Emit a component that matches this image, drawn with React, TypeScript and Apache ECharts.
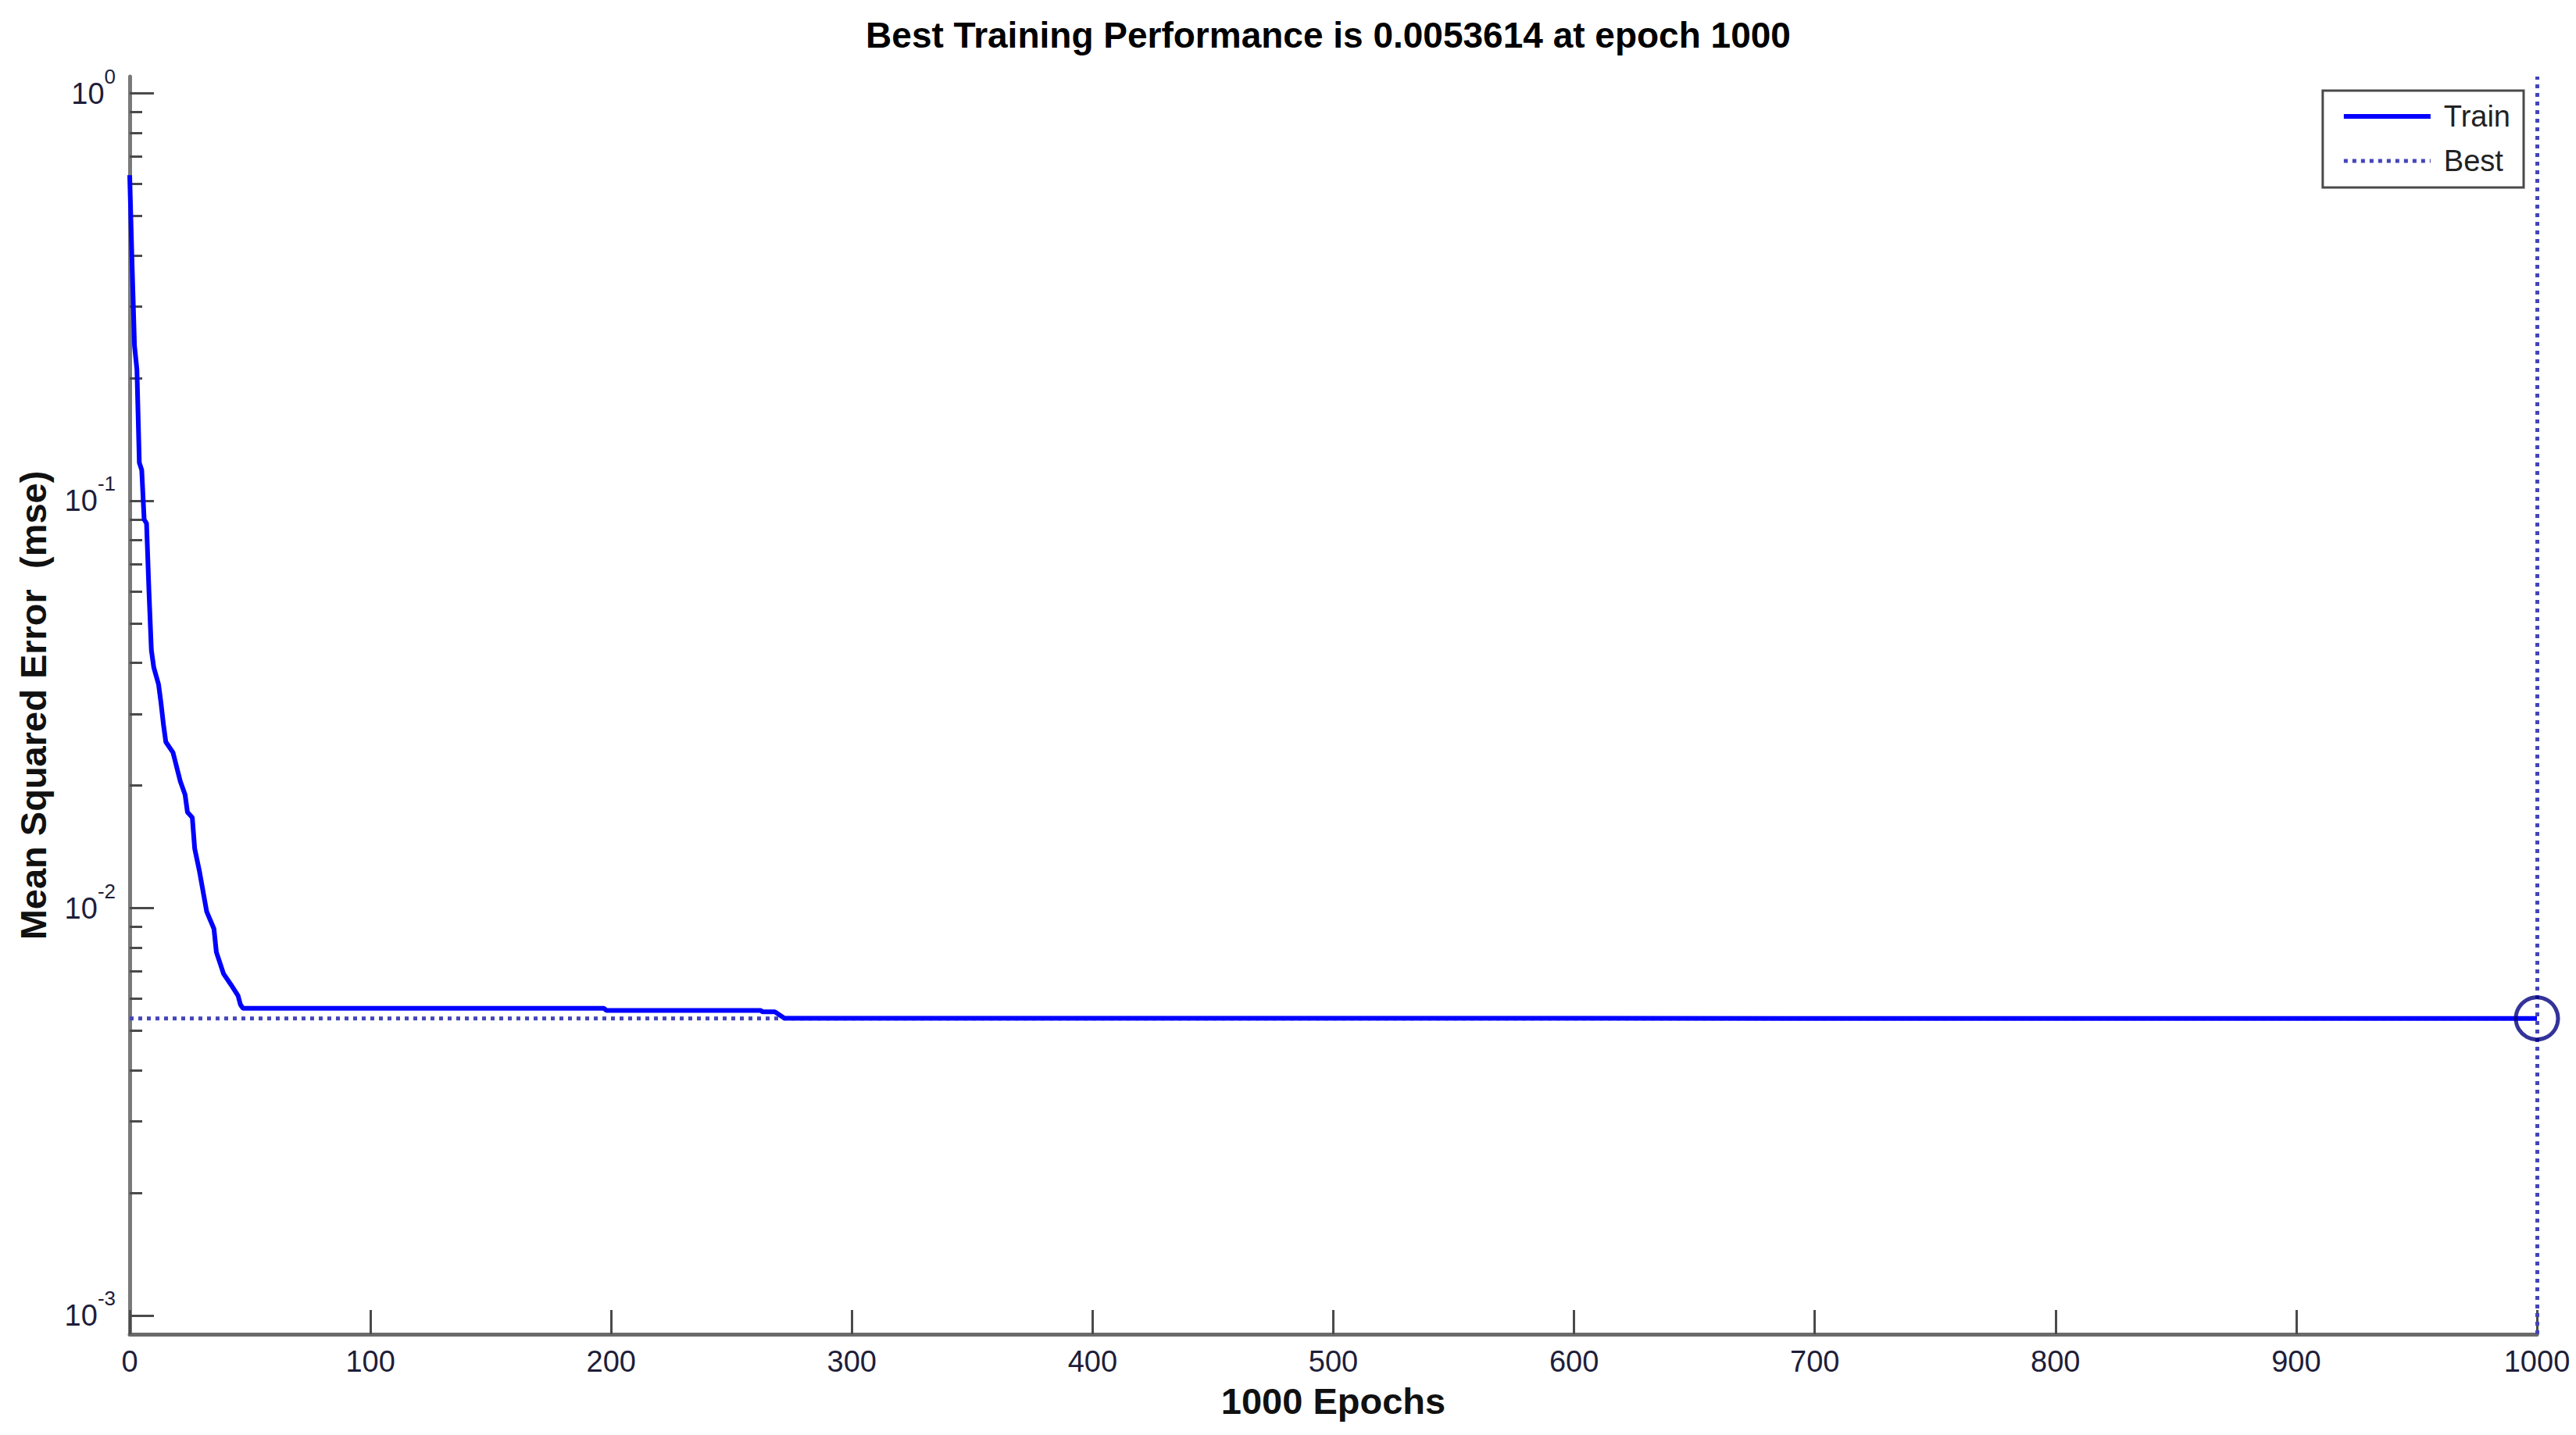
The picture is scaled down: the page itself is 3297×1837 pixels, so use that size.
import React, { useEffect, useRef } from 'react';
import * as echarts from 'echarts';

const titleText = 'Best Training Performance is 0.0053614 at epoch 1000';
const xAxisName = '1000 Epochs';
const yAxisName = 'Mean Squared Error  (mse)';
const legendNames = ['Train', 'Best'];

const xTickValues = [0, 100, 200, 300, 400, 500, 600, 700, 800, 900, 1000];
const yMajorTicks = [0.001, 0.01, 0.1, 1];
const yMinorTicks = [
  0.002, 0.003, 0.004, 0.005, 0.006, 0.007, 0.008, 0.009,
  0.02, 0.03, 0.04, 0.05, 0.06, 0.07, 0.08, 0.09,
  0.2, 0.3, 0.4, 0.5, 0.6, 0.7, 0.8, 0.9,
];
const yMin = 0.0009;
const yMax = 1.1;

const trainEpochs = [0, 1, 2, 3, 4, 5, 6, 7, 8, 9, 10, 12, 13, 14, 15, 18, 21, 23, 24, 26, 27, 29, 32, 35, 36, 39, 42, 45, 46, 47, 197, 198, 262, 263, 268, 272, 1000];
const trainMse = [0.63, 0.38, 0.24, 0.21, 0.124, 0.119, 0.09, 0.088, 0.06, 0.043, 0.039, 0.0354, 0.0319, 0.0283, 0.0256, 0.0241, 0.0205, 0.019, 0.0172, 0.0167, 0.014, 0.0123, 0.0098, 0.0089, 0.0078, 0.0069, 0.0065, 0.0061, 0.0058, 0.00568, 0.00568, 0.005614, 0.005614, 0.005565, 0.005565, 0.00537, 0.0053614];

const bestEpoch = 1000;
const bestMse = 0.0053614;

export default function App() {
  const ref = useRef<HTMLDivElement>(null);
  useEffect(() => {
    const chart = echarts.init(ref.current!, null, { renderer: 'svg' });
    const font = 'Arial, "Liberation Sans", Helvetica, sans-serif';
    const labelColor = '#1e1e3a';
    const bestColor = '#4444bb';
    const bestStyle = { color: bestColor, width: 5, type: [5, 6] as number[] };
    chart.setOption({
      animation: false,
      backgroundColor: '#ffffff',
      title: {
        text: titleText,
        left: 1700,
        top: 22,
        padding: 0,
        textAlign: 'center',
        textStyle: { fontFamily: font, fontWeight: 'bold', fontSize: 46, color: '#000' },
      },
      legend: {
        data: [
          { name: legendNames[0], lineStyle: { width: 6, color: '#0000ff', type: 'solid' } },
          { name: legendNames[1], lineStyle: { width: 5, color: bestColor, type: [5, 6] } },
        ],
        orient: 'vertical',
        right: 67,
        top: 116,
        align: 'left',
        backgroundColor: '#ffffff',
        borderColor: '#4a4a4a',
        borderWidth: 3,
        borderRadius: 0,
        padding: [13, 17, 14, 24],
        itemWidth: 111,
        itemHeight: 20,
        itemGap: 17,
        itemStyle: { color: 'rgba(0,0,0,0)', borderWidth: 0, opacity: 0 },
        textStyle: { fontFamily: font, fontSize: 38, color: '#222', lineHeight: 40, padding: [0, 0, 0, 12] },
      },
      grid: { left: 166, right: 50, top: 98, bottom: 129, containLabel: false },
      xAxis: {
        type: 'value',
        min: 0,
        max: 1000,
        interval: 100,
        name: xAxisName,
        nameLocation: 'middle',
        nameGap: 62,
        nameTextStyle: { fontFamily: font, fontWeight: 'bold', fontSize: 47, color: '#111' },
        axisLine: { show: true, onZero: false, lineStyle: { color: '#6a6a6a', width: 5 } },
        axisTick: { show: true, inside: true, length: 31, customValues: xTickValues, lineStyle: { color: '#4a4a4a', width: 3 } },
        axisLabel: {
          margin: 16,
          fontFamily: font,
          fontSize: 38,
          color: labelColor,
          customValues: xTickValues,
          formatter: (v: number) => String(v),
        },
        splitLine: { show: false },
      },
      yAxis: [
        {
          type: 'log',
          logBase: 10,
          min: yMin,
          max: yMax,
          name: yAxisName,
          nameLocation: 'middle',
          nameGap: 100,
          nameRotate: 90,
          nameTextStyle: { fontFamily: font, fontWeight: 'bold', fontSize: 47, color: '#111' },
          axisLine: { show: true, lineStyle: { color: '#7a7a7a', width: 5 } },
          axisTick: { show: true, inside: true, length: 31, customValues: yMajorTicks, lineStyle: { color: '#4a4a4a', width: 3 } },
          axisLabel: {
            margin: 18,
            customValues: yMajorTicks,
            formatter: (v: number) => {
              const e = Math.round(Math.log10(v));
              return `{b|10}{s|${e}}`;
            },
            rich: {
              b: { fontFamily: font, fontSize: 38, color: labelColor },
              s: { fontFamily: font, fontSize: 26, color: labelColor, padding: [0, 0, 44, 0] },
            },
          },
          splitLine: { show: false },
          minorTick: { show: false },
        },
        {
          type: 'log',
          logBase: 10,
          min: yMin,
          max: yMax,
          position: 'left',
          axisLine: { show: false },
          axisTick: { show: true, inside: true, length: 16, customValues: yMinorTicks, lineStyle: { color: '#4a4a4a', width: 3 } },
          axisLabel: { show: false },
          splitLine: { show: false },
        },
      ],
      series: [
        {
          name: 'Train',
          type: 'line',
          data: trainEpochs.map((e, i) => [e, trainMse[i]]),
          symbol: 'none',
          showSymbol: false,
          lineStyle: { color: '#0000ff', width: 6 },
          itemStyle: { color: '#0000ff' },
          z: 4,
        },
        {
          name: 'Best',
          type: 'line',
          data: [[0, bestMse], [bestEpoch, bestMse]],
          symbol: 'none',
          showSymbol: false,
          lineStyle: bestStyle,
          itemStyle: { color: bestColor },
          z: 3,
          markLine: {
            silent: true,
            symbol: ['none', 'none'],
            label: { show: false },
            lineStyle: bestStyle,
            data: [{ xAxis: bestEpoch }],
          },
        },
        {
          name: 'BestPoint',
          type: 'scatter',
          data: [[bestEpoch, bestMse]],
          symbol: 'circle',
          symbolSize: 54,
          clip: false,
          itemStyle: { color: 'rgba(0,0,0,0)', borderColor: '#000080', borderWidth: 5 },
          z: 5,
        },
      ],
    });
    return () => chart.dispose();
  }, []);
  return (
    <div
      ref={ref}
      style={{ position: 'absolute', left: 0, top: 0, width: 3297, height: 1837, background: '#fff' }}
    />
  );
}
